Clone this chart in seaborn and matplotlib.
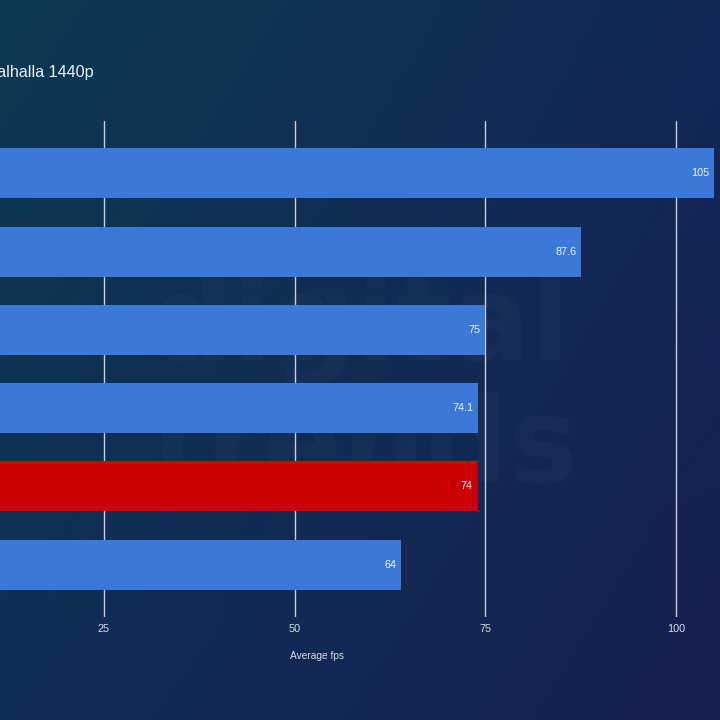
import numpy as np
import pandas as pd
import matplotlib
matplotlib.use("Agg")
import matplotlib.pyplot as plt
import seaborn as sns

# ---- data ----
gpus = ["GPU 1", "GPU 2", "GPU 3", "GPU 4", "GPU 5", "GPU 6"]
fps = [105, 87.6, 75, 74.1, 74, 64]
highlight = [False, False, False, False, True, False]
xticks = [25, 50, 75, 100]
title = "Assassin's Creed Valhalla 1440p"
xlabel = "Average fps"

BLUE = "#3b78d8"
RED = "#cc0000"

df = pd.DataFrame({"gpu": gpus, "fps": fps,
                   "grp": ["hl" if h else "base" for h in highlight]})

sns.set_theme(style="white")
plt.rcParams["font.family"] = ["Liberation Sans", "DejaVu Sans"]

fig = plt.figure(figsize=(7.2, 7.2), dpi=100)

# gradient background
bg = fig.add_axes([0, 0, 1, 1], zorder=-10)
n = 200
xs = np.linspace(0, 1, n)[None, :]
ys = np.linspace(0, 1, n)[:, None]
TL = np.array([12, 58, 82]) / 255
TR = np.array([18, 40, 86]) / 255
BL = np.array([15, 46, 86]) / 255
BR = np.array([23, 31, 80]) / 255
img = ((1 - xs)[..., None] * (1 - ys)[..., None] * TL + xs[..., None] * (1 - ys)[..., None] * TR
       + (1 - xs)[..., None] * ys[..., None] * BL + xs[..., None] * ys[..., None] * BR)
bg.imshow(img, extent=[0, 1, 0, 1], aspect="auto", origin="upper")
bg.set_xlim(0, 1); bg.set_ylim(0, 1)
bg.axis("off")

# faint watermark
bg.text(150 / 720, 1 - 360 / 720, "digital", fontsize=84, fontweight="bold", color="white",
        alpha=0.025, family="DejaVu Sans", va="baseline", ha="left")
bg.text(150 / 720, 1 - 482 / 720, "trends", fontsize=84, fontweight="bold", color="white",
        alpha=0.025, family="DejaVu Sans", va="baseline", ha="left")

# main axes (left edge sits off-canvas as in the cropped reference)
pxu = 190.67 / 25.0
left_px = 104 - 25 * pxu
xmax = 105.8
width_px = xmax * pxu
ax = fig.add_axes([left_px / 720, (720 - 617) / 720, width_px / 720, (617 - 121) / 720])
ax.set_facecolor("none")

sns.barplot(data=df, y="gpu", x="fps", hue="grp", palette={"base": BLUE, "hl": RED},
            orient="h", width=0.64, dodge=False, legend=False, ax=ax, saturation=1,
            linewidth=0, edgecolor="none")
for p in ax.patches:
    p.set_zorder(3)

ax.set_xlim(0, xmax)
ax.set_ylim(5.67, -0.67)
ax.set_xticks(xticks)
ax.set_xticklabels([str(t) for t in xticks], color="#d6dbe6", fontsize=7.8)
ax.tick_params(axis="x", length=0, pad=5)
ax.set_yticks([])
ax.set_ylabel("")
ax.set_xlabel(xlabel, color="#d6dbe6", fontsize=7.3, labelpad=12)
ax.xaxis.grid(True, color="#c9ced8", linewidth=1.0)
ax.set_axisbelow(True)
for s in ax.spines.values():
    s.set_visible(False)

for bar in ax.patches:
    w = bar.get_width()
    if np.isnan(w) or w == 0:
        continue
    yc = bar.get_y() + bar.get_height() / 2
    ax.annotate(f"{w:g}", xy=(w, yc), xytext=(-3.5, 0), textcoords="offset points",
                ha="right", va="center", color="#eef2fa", fontsize=7.8, zorder=5)

fig.text(94 / 720, 1 - 77 / 720, title, ha="right", va="baseline", fontsize=11.6, color="#eef2f8")

fig.savefig("out.png", dpi=100)
